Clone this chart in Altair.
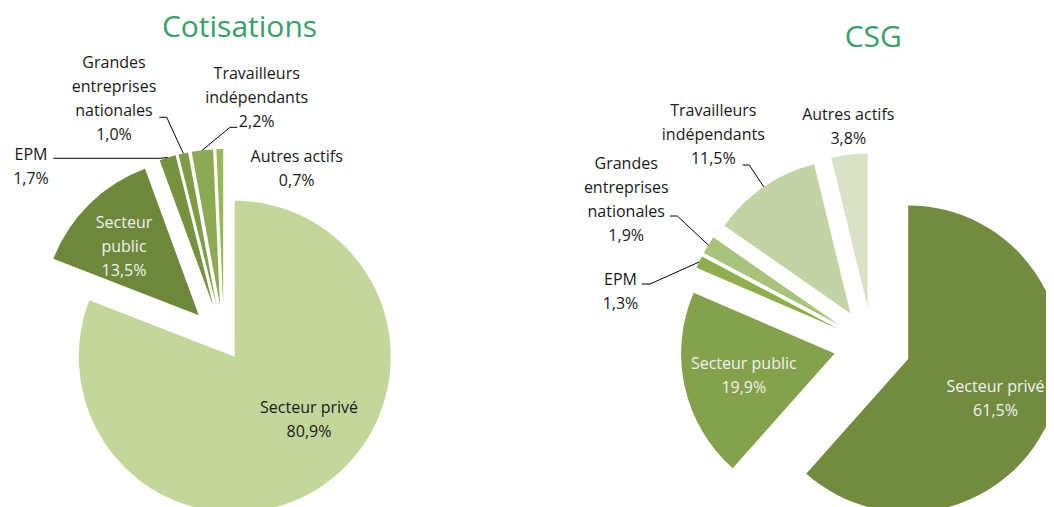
import altair as alt
import pandas as pd

# ---------------- data ----------------
categories = ["Secteur privé", "Secteur public", "EPM",
              "Grandes entreprises nationales", "Travailleurs indépendants", "Autres actifs"]
cotisations_values = [80.9, 13.5, 1.7, 1.0, 2.2, 0.7]
csg_values = [61.5, 19.9, 1.3, 1.9, 11.5, 3.8]
cotisations_names = ["Secteur privé", "Secteur\npublic", "EPM",
                     "Grandes\nentreprises\nnationales", "Travailleurs\nindépendants", "Autres actifs"]
csg_names = ["Secteur privé", "Secteur public", "EPM",
             "Grandes\nentreprises\nnationales", "Travailleurs\nindépendants", "Autres actifs"]
titles = ["Cotisations", "CSG"]

# ---------------- styles / layout ----------------
OFF = 8  # page margin
FONT = "Open Sans"
TITLE_COLOR = "#37A06B"
DARK = "#1A1A1A"
LIGHT = "#F2F2F2"

cot_colors = ["#C4D79B", "#6D883B", "#77933D", "#7F9C46", "#8BAA52", "#98B95A"]
csg_colors = ["#728B3F", "#84A14B", "#8EAE4C", "#A8C47A", "#C3D4A4", "#D8E3C6"]
cot_text_colors = [DARK, LIGHT, DARK, DARK, DARK, DARK]
csg_text_colors = [LIGHT, LIGHT, DARK, DARK, DARK, DARK]

cot_center, cot_radius = (224.0, 341.0), 156
csg_center, csg_radius = (872.2, 345.2), 153.5
cot_explode = [19, 36, 36, 36, 36, 36]
csg_explode = [38.5, 38.5, 38.5, 38.5, 38.5, 38.5]

# x centre and y of the first text line of each label
cot_label_pos = [(309, 408.3), (124, 222.7), (31, 155.0), (114, 63.3), (256.7, 74.0), (296.7, 156.7)]
csg_label_pos = [(995.5, 386.7), (743.8, 364.0), (620.5, 280.0), (626.2, 164.0), (713.3, 110.7), (848.3, 115.0)]

# leader lines: label end point, elbow point (slice end is computed from the data)
cot_leaders = {2: (53.3, 158.3, 160.0, 158.3), 3: (159.3, 117.3, 166.7, 117.3), 4: (237.3, 127.3, 230.0, 127.3)}
csg_leaders = {2: (641.7, 284.0, 650.0, 284.0), 3: (670.0, 216.0, 677.3, 216.0), 4: (742.7, 165.0, 749.3, 165.0)}

title_pos = [(239.5, 37.3), (873.3, 47.3)]


def pie_layers(values, names, colors, text_colors, explode, label_pos, leaders, center, R):
    rows = []
    for i, (c, v, n) in enumerate(zip(categories, values, names)):
        ld = leaders.get(i)
        rows.append(dict(
            cat=c, value=v, order=i, lname=n,
            col=colors[i], tcol=text_colors[i], exp=explode[i],
            lx=label_pos[i][0] - OFF, ly=label_pos[i][1] - OFF,
            p1x=(ld[0] - OFF) if ld else None, p1y=(ld[1] - OFF) if ld else None,
            p2x=(ld[2] - OFF) if ld else None, p2y=(ld[3] - OFF) if ld else None,
        ))
    df = pd.DataFrame(rows)
    cx, cy = center[0] - OFF, center[1] - OFF
    base = (
        alt.Chart(df)
        .transform_joinaggregate(total="sum(value)")
        .transform_window(cum="sum(value)", sort=[alt.SortField("order")], frame=[None, 0])
        .transform_calculate(
            a0="2*PI*(datum.cum - datum.value)/datum.total",
            a1="2*PI*datum.cum/datum.total",
        )
        .transform_calculate(mid="(datum.a0 + datum.a1)/2")
        .transform_calculate(
            vx=f"{cx} + datum.exp*sin(datum.mid)",
            vy=f"{cy} - datum.exp*cos(datum.mid)",
        )
        .transform_calculate(
            ax=f"datum.vx + {R}*sin(datum.mid)",
            ay=f"datum.vy - {R}*cos(datum.mid)",
            label="datum.lname + '\\n' + replace(format(datum.value, '.1f'), '.', ',') + '%'",
        )
    )
    arcs = base.mark_arc(radius=R).encode(
        x=alt.X("vx:Q", scale=None, axis=None),
        y=alt.Y("vy:Q", scale=None, axis=None),
        theta=alt.Theta("a0:Q", scale=None, stack=False),
        theta2="a1:Q",
        color=alt.Color("col:N", scale=None, legend=None),
    )
    labels = base.mark_text(
        font=FONT, fontSize=16, lineHeight=24, lineBreak="\n",
        align="center", baseline="middle",
    ).encode(
        x=alt.X("lx:Q", scale=None, axis=None),
        y=alt.Y("ly:Q", scale=None, axis=None),
        text="label:N",
        color=alt.Color("tcol:N", scale=None, legend=None),
    )
    lead = base.transform_filter("datum.p1x != null")
    seg1 = lead.mark_rule(color="#000000", strokeWidth=1).encode(
        x=alt.X("p1x:Q", scale=None, axis=None), y=alt.Y("p1y:Q", scale=None, axis=None),
        x2="p2x:Q", y2="p2y:Q",
    )
    seg2 = lead.mark_rule(color="#000000", strokeWidth=1).encode(
        x=alt.X("p2x:Q", scale=None, axis=None), y=alt.Y("p2y:Q", scale=None, axis=None),
        x2="ax:Q", y2="ay:Q",
    )
    return [arcs, seg1, seg2, labels]


cot = pie_layers(cotisations_values, cotisations_names, cot_colors, cot_text_colors,
                 cot_explode, cot_label_pos, cot_leaders, cot_center, cot_radius)
csg = pie_layers(csg_values, csg_names, csg_colors, csg_text_colors,
                 csg_explode, csg_label_pos, csg_leaders, csg_center, csg_radius)

title_df = pd.DataFrame({
    "t": titles,
    "tx": [p[0] - OFF for p in title_pos],
    "ty": [p[1] - OFF for p in title_pos],
})
title_layer = alt.Chart(title_df).mark_text(
    font=FONT, fontSize=30, color=TITLE_COLOR, align="center", baseline="alphabetic"
).encode(
    x=alt.X("tx:Q", scale=None, axis=None),
    y=alt.Y("ty:Q", scale=None, axis=None),
    text="t:N",
)

chart = alt.layer(*cot, *csg, title_layer).properties(
    width=1038, height=499,
    autosize=alt.AutoSizeParams(type="none"),
    padding=0,
).configure_view(stroke=None)

chart.save("out.html", embed_options={"renderer": "svg", "actions": False})
